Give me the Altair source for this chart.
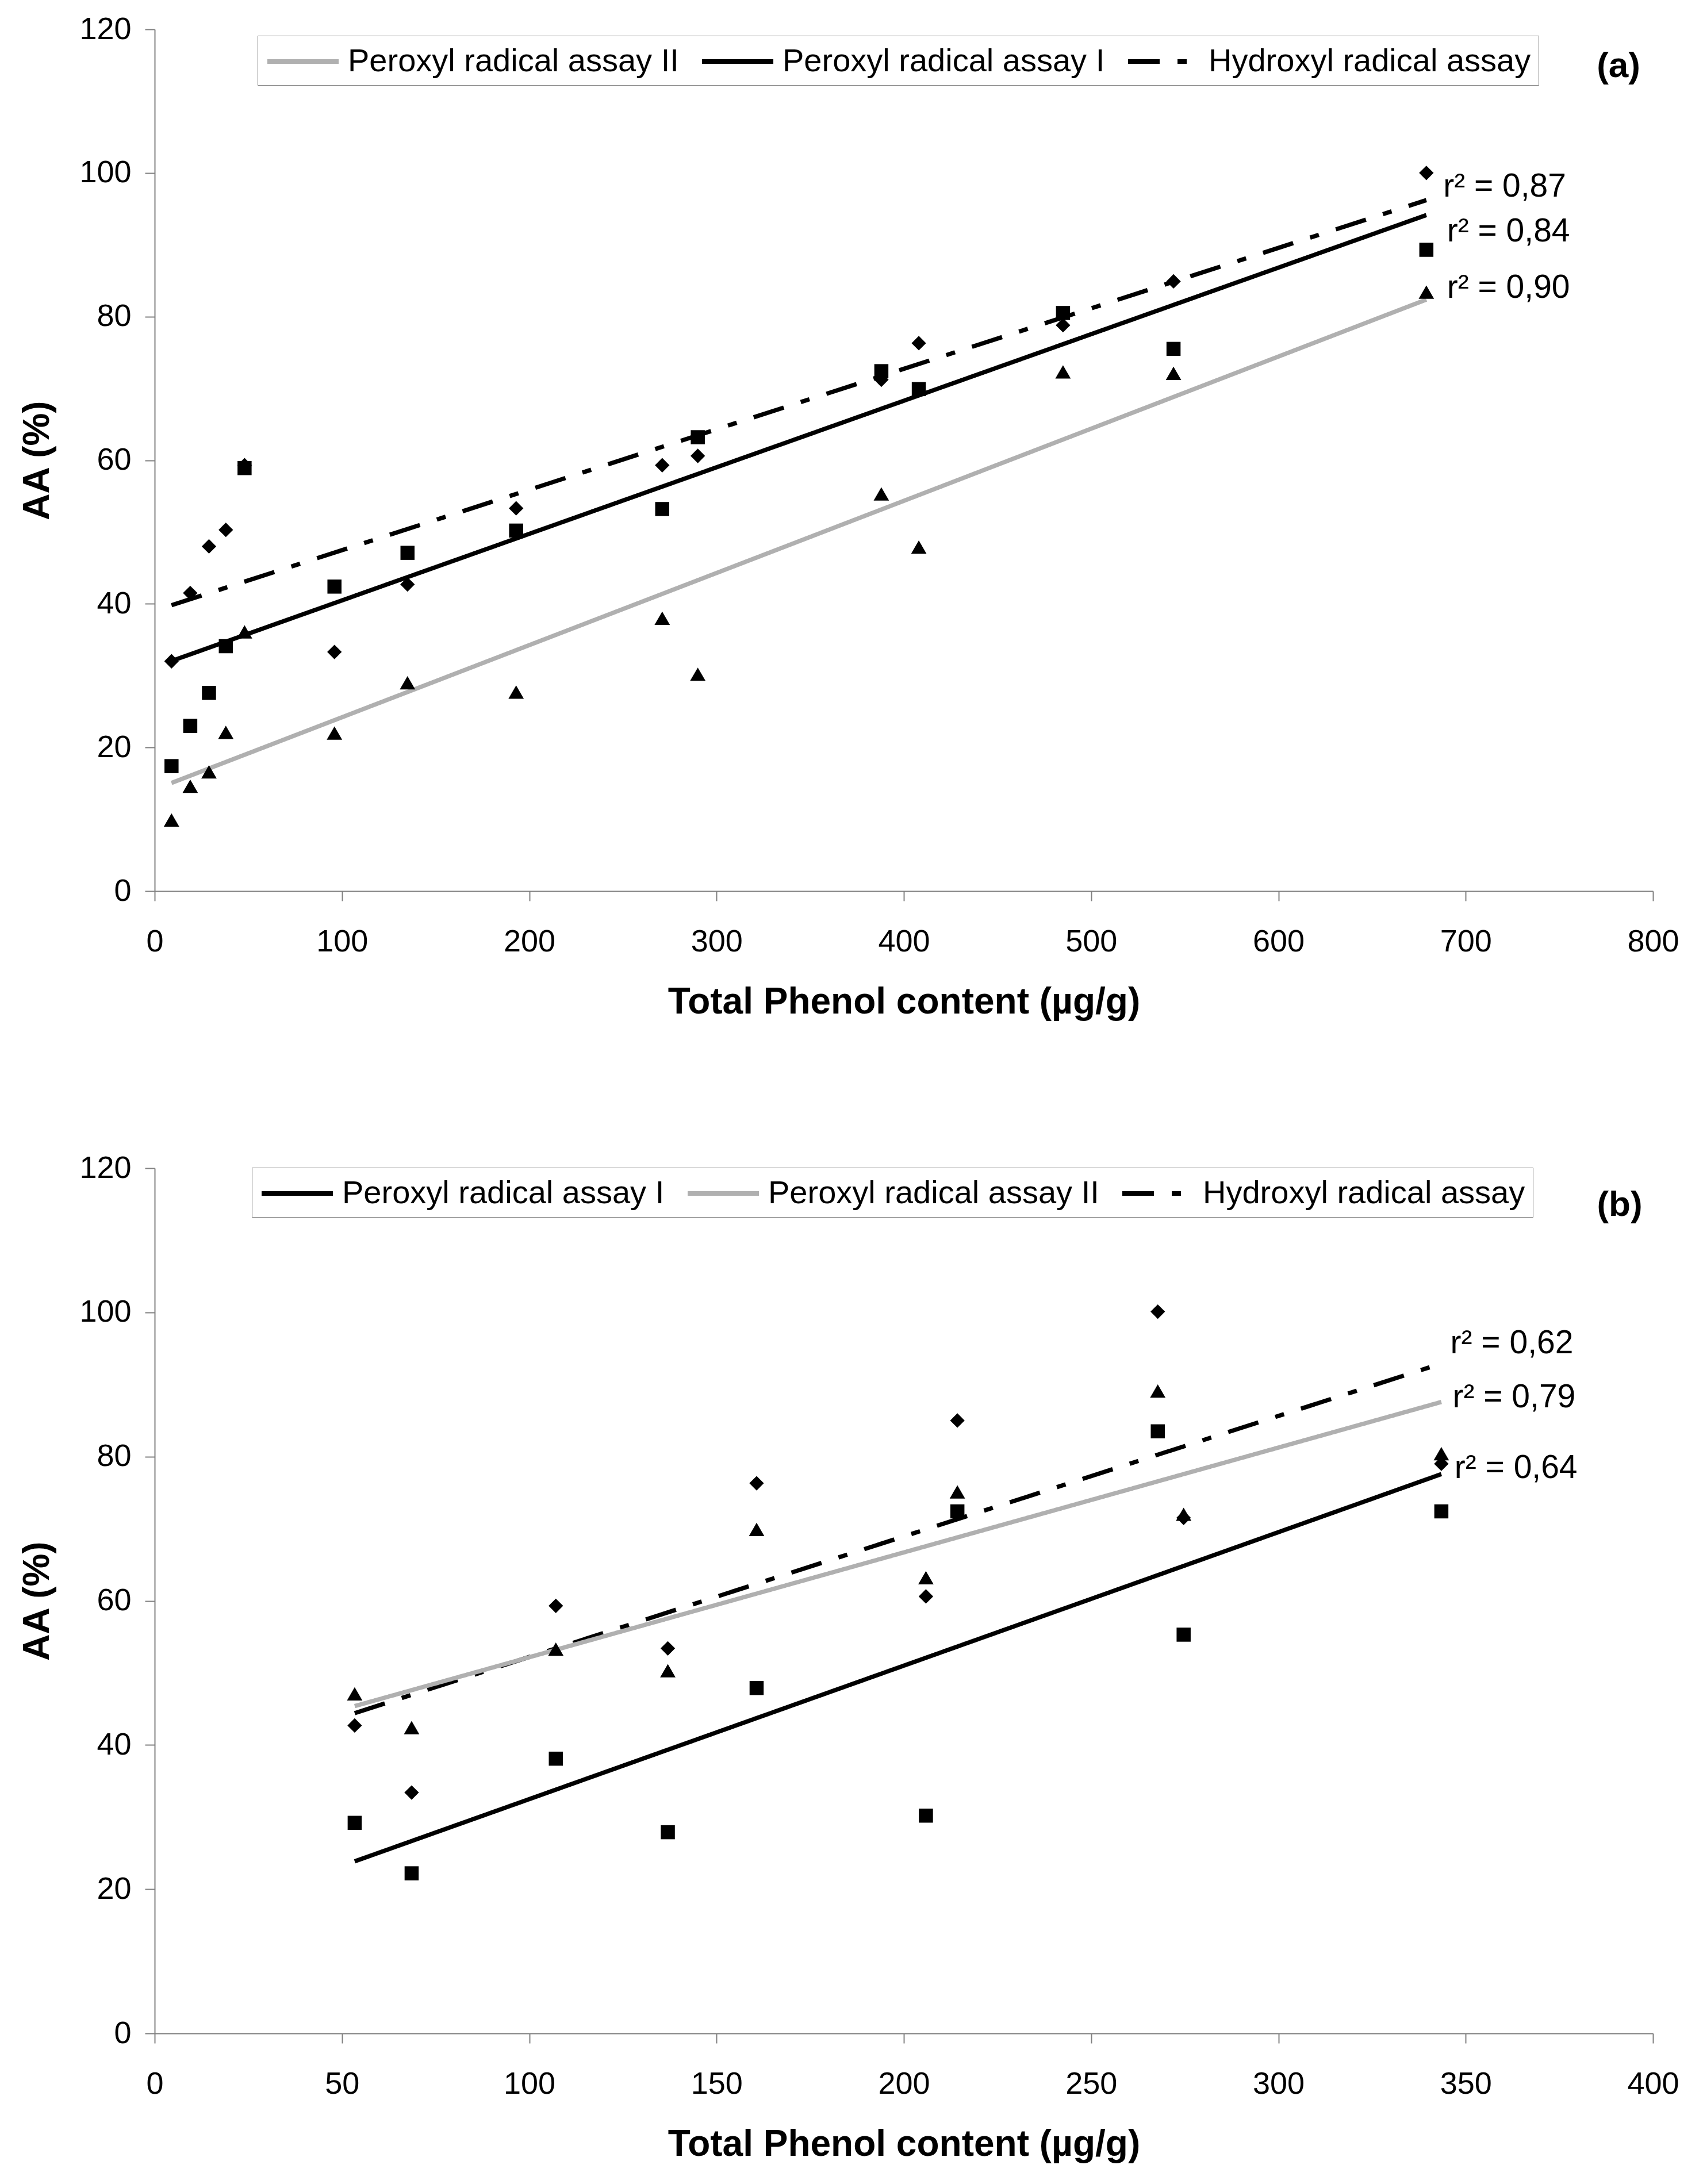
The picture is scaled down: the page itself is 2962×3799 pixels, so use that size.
import altair as alt
import pandas as pd

# ---------------- data: panel (a) ----------------
a_x = [9, 19, 29, 38, 48, 96, 135, 193, 271, 290, 388, 408, 485, 544, 679]
a_hydroxyl = [32.0, 41.5, 48.0, 50.3, 59.3, 33.3, 42.7, 53.3, 59.3, 60.6, 71.2, 76.3, 78.8, 84.9, 100.0]
a_peroxyl_1 = [17.4, 23.0, 27.6, 34.1, 58.9, 42.4, 47.1, 50.2, 53.2, 63.2, 72.4, 69.9, 80.5, 75.5, 89.3]
a_peroxyl_2 = [9.9, 14.6, 16.6, 22.1, 36.1, 22.0, 29.0, 27.7, 38.0, 30.2, 55.3, 47.9, 72.3, 72.1, 83.4]
a_order = ["Peroxyl radical assay II", "Peroxyl radical assay I", "Hydroxyl radical assay"]
a_r2_text = ["r² = 0,87", "r² = 0,84", "r² = 0,90"]
a_r2_x = [688, 690, 690]
a_r2_y = [96.7, 90.5, 82.6]
a_tag = ["(a)"]
a_tag_x = [781.6]
a_tag_y = [114.9]

# ---------------- data: panel (b) ----------------
b_x = [53.4, 68.6, 107.1, 137.0, 160.7, 205.9, 214.3, 267.8, 274.7, 343.5]
b_hydroxyl = [42.7, 33.4, 59.3, 53.4, 76.3, 60.6, 85.0, 100.1, 71.5, 79.0]
b_peroxyl_1 = [29.2, 22.2, 38.1, 27.9, 47.9, 30.2, 72.4, 83.5, 55.3, 72.4]
b_peroxyl_2 = [47.1, 42.4, 53.3, 50.3, 69.9, 63.2, 75.1, 89.1, 72.0, 80.4]
b_order = ["Peroxyl radical assay I", "Peroxyl radical assay II", "Hydroxyl radical assay"]
b_r2_text = ["r² = 0,62", "r² = 0,79", "r² = 0,64"]
b_r2_x = [345.9, 346.5, 347.0]
b_r2_y = [94.3, 86.8, 77.0]
b_tag = ["(b)"]
b_tag_x = [391.1]
b_tag_y = [114.9]

HYD = "Hydroxyl radical assay"
P1 = "Peroxyl radical assay I"
P2 = "Peroxyl radical assay II"

COLORS = {HYD: "#000000", P1: "#000000", P2: "#b0b0b0"}
DASHES = {HYD: [55, 31, 16, 31], P1: [1, 0], P2: [1, 0]}
SHAPES = {HYD: "diamond", P1: "square", P2: "triangle-up"}
SIZES = {HYD: 640, P1: 600, P2: 720}

FONT = "Liberation Sans"
W = 2606

# legend line sample: a path that starts at the symbol box and runs past it,
# so the legend row stays as short as the label text
LEGEND_SYMBOL = "M-1,0H3.43"
LEGEND_SYMBOL_SIZE = 3136  # sqrt -> 56


def panel(xs, hyd, p1, p2, order, xmax, xstep, r2_text, r2_x, r2_y,
          tag, tag_x, tag_y, leg_x, leg_y, height):
    rows = []
    for name, vals in ((HYD, hyd), (P1, p1), (P2, p2)):
        for xv, yv in zip(xs, vals):
            rows.append({"x": xv, "y": yv, "series": name})
    df = pd.DataFrame(rows)
    r2df = pd.DataFrame({"x": r2_x, "y": r2_y, "label": r2_text})
    tagdf = pd.DataFrame({"x": tag_x, "y": tag_y, "label": tag})

    xenc = alt.X("x:Q",
                 scale=alt.Scale(domain=[0, xmax], nice=False, zero=True),
                 axis=alt.Axis(values=list(range(0, xmax + 1, xstep)),
                               title="Total Phenol content (µg/g)"))
    yenc = alt.Y("y:Q",
                 scale=alt.Scale(domain=[0, 120], nice=False),
                 axis=alt.Axis(values=list(range(0, 121, 20)), title="AA (%)"))

    legend = alt.Legend(
        title=None, orient="none", legendX=leg_x, legendY=leg_y,
        direction="horizontal", columns=3,
        symbolType=LEGEND_SYMBOL, symbolSize=LEGEND_SYMBOL_SIZE,
        symbolStrokeWidth=8,
        labelFont=FONT, labelFontSize=56, labelColor="black", labelLimit=3000,
        labelOffset=80, columnPadding=24, padding=13,
        strokeColor="#808080", fillColor="white",
    )

    color_scale = alt.Scale(domain=order, range=[COLORS[s] for s in order])
    dash_scale = alt.Scale(domain=order, range=[DASHES[s] for s in order])

    lines = alt.Chart(df).transform_regression(
        "x", "y", groupby=["series"]
    ).mark_line(strokeWidth=7.5).encode(
        x=xenc, y=yenc,
        color=alt.Color("series:N", scale=color_scale, legend=legend),
        strokeDash=alt.StrokeDash("series:N", scale=dash_scale, legend=legend),
    )

    point_layers = []
    for name in (P2, P1, HYD):
        point_layers.append(
            alt.Chart(df).transform_filter(
                alt.datum.series == name
            ).mark_point(
                filled=True, opacity=1, color="black", strokeWidth=0,
                shape=SHAPES[name], size=SIZES[name]
            ).encode(x=xenc, y=yenc)
        )

    r2 = alt.Chart(r2df).mark_text(
        align="left", baseline="alphabetic", font=FONT, fontSize=57, color="black"
    ).encode(x=xenc, y=yenc, text="label:N")

    tag_layer = alt.Chart(tagdf).mark_text(
        align="center", baseline="middle", font=FONT, fontSize=62,
        fontWeight="bold", color="black"
    ).encode(x=xenc, y=yenc, text="label:N")

    return alt.layer(lines, *point_layers, r2, tag_layer).properties(
        width=W, height=height)


pa = panel(a_x, a_hydroxyl, a_peroxyl_1, a_peroxyl_2, a_order, 800, 100,
           a_r2_text, a_r2_x, a_r2_y, a_tag, a_tag_x, a_tag_y, 179, 11, 1499)
pb = panel(b_x, b_hydroxyl, b_peroxyl_1, b_peroxyl_2, b_order, 400, 50,
           b_r2_text, b_r2_x, b_r2_y, b_tag, b_tag_x, b_tag_y, 169, -1, 1505)

chart = alt.vconcat(pa, pb, spacing=230).resolve_scale(
    color="independent", strokeDash="independent"
).resolve_legend(
    color="independent", strokeDash="independent"
).properties(
    padding={"left": 25, "top": 16, "right": 5, "bottom": 5}
).configure_view(
    stroke=None
).configure_axis(
    labelFont=FONT, labelFontSize=54, labelColor="black", labelFlush=False,
    labelOverlap=False,
    titleFont=FONT, titleFontSize=64, titleFontWeight="bold", titleColor="black",
    domainColor="#808080", tickColor="#808080", domainWidth=2, tickWidth=2,
    tickSize=17, grid=False,
).configure_axisX(
    labelPadding=44, titlePadding=46
).configure_axisY(
    labelPadding=24, titlePadding=40
)

chart.save("out.html", embed_options={"renderer": "svg", "actions": False})
